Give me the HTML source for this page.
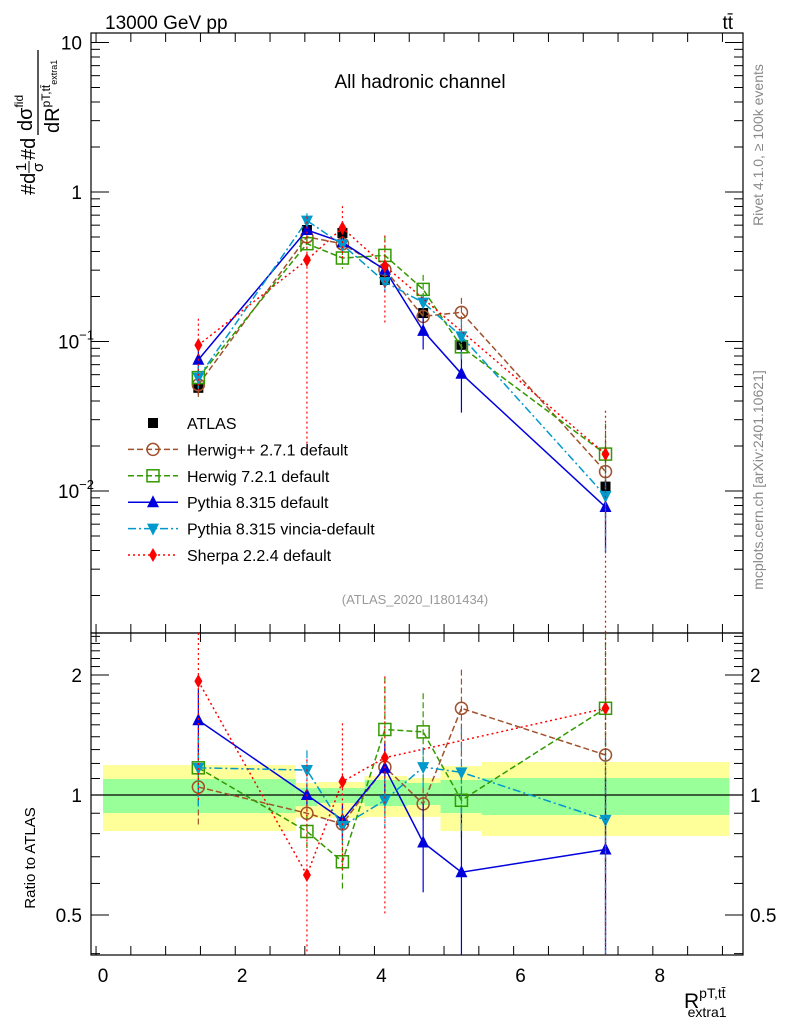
<!DOCTYPE html>
<html><head><meta charset="utf-8">
<style>
html,body{margin:0;padding:0;background:#fff;}
svg{display:block;font-family:"Liberation Sans",Arial,sans-serif;}
</style></head>
<body>
<svg id="c" width="786" height="1024" viewBox="0 0 786 1024" xmlns="http://www.w3.org/2000/svg">
<text x="105" y="29" font-size="19">13000 GeV pp</text>
<text x="733" y="29" font-size="19" text-anchor="end">tt̄</text>
<text x="420" y="88" font-size="19" text-anchor="middle">All hadronic channel</text>
<text x="415" y="604" font-size="13" fill="#999" text-anchor="middle">(ATLAS_2020_I1801434)</text>
<text transform="translate(763,145) rotate(-90)" font-size="14" fill="#888" text-anchor="middle">Rivet 4.1.0, ≥ 100k events</text>
<text transform="translate(763,480) rotate(-90)" font-size="14" fill="#888" text-anchor="middle">mcplots.cern.ch [arXiv:2401.10621]</text>
<g transform="translate(35,195) rotate(-90)">
<text x="0" y="0" font-size="20">#d</text>
<text x="24" y="-9" font-size="15">1</text>
<line x1="22" y1="-6" x2="34" y2="-6" stroke="#000" stroke-width="1"/>
<text x="23" y="8" font-size="15">σ</text>
<text x="35" y="0" font-size="20">#d</text>
<text x="64" y="-3" font-size="20">dσ<tspan font-size="12" dy="-9">fid</tspan></text>
<line x1="60" y1="3" x2="145" y2="3" stroke="#000" stroke-width="1.3"/>
<text x="62" y="24" font-size="20">dR<tspan font-size="12" dy="-9">pT,tt̄</tspan><tspan font-size="9" dy="7">extra1</tspan></text>
</g>
<text x="35" y="858" font-size="15" transform="rotate(-90,35,858)" text-anchor="middle">Ratio to ATLAS</text>
<text x="684" y="1008" font-size="21">R<tspan font-size="14" dy="-10">pT,tt̄</tspan><tspan font-size="14" dx="-38" dy="19">extra1</tspan></text>
<g id="bands"></g>
<g id="axes"></g>
<g id="series"></g>
<g id="legend"></g>
</svg>
<script>
const xVals=[1.37,2.93,3.44,4.05,4.6,5.15,7.22];
const binEdges=[0,2.77,3.08,3.76,4.37,4.85,5.44,9];
const yellowHi=[1.189,1.072,1.078,1.116,1.103,1.182,1.210];
const yellowLo=[0.812,0.876,0.876,0.881,0.881,0.812,0.789];
const greenHi=[1.097,1.041,1.041,1.091,1.072,1.091,1.103];
const greenLo=[0.901,0.938,0.955,0.938,0.944,0.901,0.891];
const atlas=[0.049,0.557,0.532,0.258,0.155,0.095,0.0107];
const atlasErr=[0.1,0.05,0.05,0.05,0.06,0.08,0.12];
const herwigppRatio=[1.047,0.90,0.846,1.175,0.95,1.65,1.26];
const herwig7Ratio=[1.17,0.81,0.68,1.46,1.44,0.97,1.65];
const pythiaRatio=[1.54,1.0,0.866,1.17,0.76,0.64,0.73];
const vinciaRatio=[1.17,1.155,0.836,0.97,1.175,1.14,0.866];
const sherpaRatio=[1.93,0.63,1.08,1.24,null,null,1.65];
const herwigppErr=[0.2,0.1,0.1,0.12,0.1,0.25,0.65];
const herwig7Err=[0.2,0.1,0.15,0.35,0.25,0.2,0.6];
const pythiaErr=[0.2,0.06,0.1,0.15,0.25,0.45,0.5];
const vinciaErr=[0.2,0.12,0.1,0.15,0.12,0.3,0.6];
const sherpaErr=[0.5,0.95,0.4,0.6,null,null,0.95];
const legendLabels=["ATLAS","Herwig++ 2.7.1 default","Herwig 7.2.1 default","Pythia 8.315 default","Pythia 8.315 vincia-default","Sherpa 2.2.4 default"];

const NS="http://www.w3.org/2000/svg";
const L=91,R=743,T=33,M=633,B=955;
const X=v=>103+v*69.6;
const Y=v=>192-Math.log10(v)*149.5;
const RY=v=>795-Math.log2(v)*120;
const clampM=y=>Math.max(T,Math.min(M,y));
const clampR=y=>Math.max(M,Math.min(B,y));
function mk(tag,attrs,parent){const e=document.createElementNS(NS,tag);for(const k in attrs)e.setAttribute(k,attrs[k]);parent.appendChild(e);return e;}
const bands=document.getElementById('bands'),axes=document.getElementById('axes'),series=document.getElementById('series'),legend=document.getElementById('legend');

for(let i=0;i<binEdges.length-1;i++){
 const x1=X(binEdges[i]),w=X(binEdges[i+1])-x1;
 const y=mk('rect',{x:x1,y:RY(yellowHi[i]),width:w,height:RY(yellowLo[i])-RY(yellowHi[i]),fill:'#ffff99'},bands);
 
 
 const g=mk('rect',{x:x1,y:RY(greenHi[i]),width:w,height:RY(greenLo[i])-RY(greenHi[i]),fill:'#99ff99'},bands);
 
 
}
mk('line',{x1:L,x2:R,y1:RY(1),y2:RY(1),stroke:'#000','stroke-width':1.3},bands);

mk('rect',{x:L,y:T,width:R-L,height:M-T,fill:'none',stroke:'#000','stroke-width':1.2},axes);
mk('rect',{x:L,y:M,width:R-L,height:B-M,fill:'none',stroke:'#000','stroke-width':1.2},axes);
for(let d=-3;d<=1;d++){for(let k=1;k<10;k++){const v=k*Math.pow(10,d);const y=Y(v);if(y<T||y>M)continue;const len=k==1?18:9;
 mk('line',{x1:L,x2:L+len,y1:y,y2:y,stroke:'#000'},axes);mk('line',{x1:R,x2:R-len,y1:y,y2:y,stroke:'#000'},axes);}}
const ml=[[10,"10"],[1,"1"],[0.1,"10"],[0.01,"10"]];
ml.forEach(([v,t],i)=>{const y=Y(v)+7;
 const tx=mk('text',{x:i<2?82:58,y:y,'font-size':19,'text-anchor':i<2?'end':'start'},axes);tx.textContent=t;
 if(i>=2){const s=mk('tspan',{'font-size':13,dy:-9},tx);s.textContent=i==2?"−1":"−2";}
 
 
});
for(let v=0.4;v<=2.55;v+=0.1){const y=RY(v);if(y<M||y>B)continue;const maj=[0.5,1,2].some(m=>Math.abs(m-v)<1e-6);const len=maj?18:9;
 mk('line',{x1:L,x2:L+len,y1:y,y2:y,stroke:'#000'},axes);mk('line',{x1:R,x2:R-len,y1:y,y2:y,stroke:'#000'},axes);}
[[2,"2"],[1,"1"],[0.5,"0.5"]].forEach(([v,t])=>{const a=mk('text',{x:82,y:RY(v)+7,'font-size':19,'text-anchor':'end'},axes);a.textContent=t;
 
 
 const b=mk('text',{x:750,y:RY(v)+7,'font-size':19},axes);b.textContent=t;
 
 });
for(let v=-0.1;v<=9.2;v+=0.5){const vv=Math.round(v*10)/10;const x=X(vv);if(x<L||x>R)continue;const maj=Math.abs(vv%2)<1e-6;const len=maj?18:9;
 [[T,1],[M,1],[M,-1],[B,-1]].forEach(([y0,s])=>mk('line',{x1:x,x2:x,y1:y0,y2:y0+s*len,stroke:'#000'},axes));}
[0,2,4,6,8].forEach(v=>{const t=mk('text',{x:X(v),y:982,'font-size':19,'text-anchor':'middle'},axes);t.textContent=v;
 
 });

function marker(g,type,x,y,col,s){
 s=s||6;
 if(type=='sq')mk('rect',{x:x-s,y:y-s,width:2*s,height:2*s,fill:'#000'},g);
 else if(type=='circ')mk('circle',{cx:x,cy:y,r:s,fill:'none',stroke:col,'stroke-width':1.5},g);
 else if(type=='osq')mk('rect',{x:x-s,y:y-s,width:2*s,height:2*s,fill:'none',stroke:col,'stroke-width':1.5},g);
 else if(type=='tri')mk('polygon',{points:`${x},${y-s-1} ${x-s},${y+s-1} ${x+s},${y+s-1}`,fill:col},g);
 else if(type=='dtri')mk('polygon',{points:`${x},${y+s+1} ${x-s},${y-s+1} ${x+s},${y-s+1}`,fill:col},g);
 else if(type=='dia')mk('polygon',{points:`${x},${y-s-1} ${x-s+2},${y} ${x},${y+s+1} ${x+s-2},${y}`,fill:col},g);
}
const defs=[
 {name:'herwigpp',r:herwigppRatio,e:herwigppErr,col:'#a0522d',dash:'6,3',m:'circ'},
 {name:'herwig7',r:herwig7Ratio,e:herwig7Err,col:'#339900',dash:'6,3',m:'osq'},
 {name:'pythia',r:pythiaRatio,e:pythiaErr,col:'#0000dd',dash:'',m:'tri'},
 {name:'vincia',r:vinciaRatio,e:vinciaErr,col:'#0099cc',dash:'8,3,2,3',m:'dtri'},
 {name:'sherpa',r:sherpaRatio,e:sherpaErr,col:'#ff0000',dash:'2,3',m:'dia'}
];
defs.forEach(d=>{
 const g=mk('g',{},series);
 
 
 const mp=[],rp=[];
 xVals.forEach((x,i)=>{if(d.r[i]==null)return;const v=d.r[i]*atlas[i];const px=X(x);
  mp.push([px,Y(v)]);rp.push([px,RY(d.r[i])]);
  const e=d.e[i];
  mk('line',{x1:px,x2:px,y1:clampM(Y(v*(1+e))),y2:clampM(Y(Math.max(v*(1-e),1e-9))),stroke:d.col,'stroke-width':1.2,'stroke-dasharray':d.dash},g);
  mk('line',{x1:px,x2:px,y1:clampR(RY(d.r[i]*(1+e))),y2:clampR(RY(Math.max(d.r[i]*(1-e),1e-9))),stroke:d.col,'stroke-width':1.2,'stroke-dasharray':d.dash},g);
 });
 mk('polyline',{points:mp.map(p=>p.join(',')).join(' '),fill:'none',stroke:d.col,'stroke-width':1.5,'stroke-dasharray':d.dash},g);
 mk('polyline',{points:rp.map(p=>p.join(',')).join(' '),fill:'none',stroke:d.col,'stroke-width':1.5,'stroke-dasharray':d.dash},g);
 mp.forEach(p=>marker(g,d.m,p[0],p[1],d.col));
 rp.forEach(p=>marker(g,d.m,p[0],p[1],d.col));
});
const ag=mk('g',{},series);


xVals.forEach((x,i)=>{const px=X(x),v=atlas[i];
 mk('line',{x1:px,x2:px,y1:Y(v*(1+atlasErr[i])),y2:Y(v*(1-atlasErr[i])),stroke:'#000','stroke-width':1.2},ag);
 marker(ag,'sq',px,Y(v),'#000',5);});
series.insertBefore(ag,series.firstChild);

legendLabels.forEach((lab,i)=>{
 const y=423+i*26.4;const g=mk('g',{},legend);
 
 
 if(i>0){const d=defs[i-1];mk('line',{x1:128,x2:178,y1:y,y2:y,stroke:d.col,'stroke-width':1.5,'stroke-dasharray':d.dash},g);marker(g,d.m,153,y,d.col);}
 else marker(g,'sq',153,y,'#000',5);
 const t=mk('text',{x:187,y:y+6,'font-size':16},g);t.textContent=lab;
});
</script>
</body></html>
